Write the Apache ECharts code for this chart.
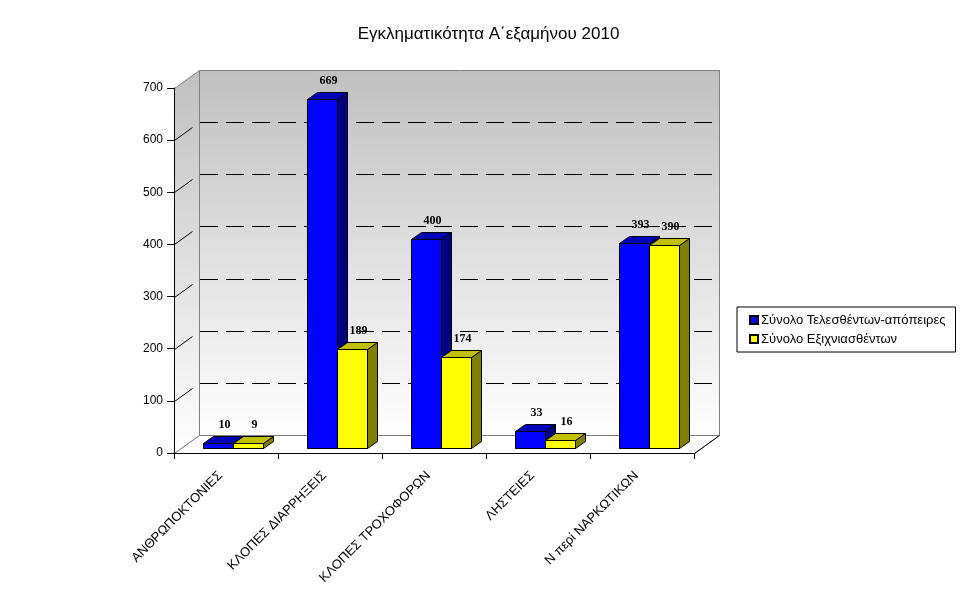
<!DOCTYPE html>
<html>
<head>
<meta charset="utf-8">
<title>Εγκληματικότητα</title>
<script src="https://cdn.jsdelivr.net/npm/echarts@6/dist/echarts.min.js"></script>
<style>
    html, body { margin: 0; padding: 0; background: #fff; }
    #chart { width: 977px; height: 600px; }
</style>
</head>
<body>
<div id="chart"></div>
<script>
// δεδομένα
var categories = ['ΑΝΘΡΩΠΟΚΤΟΝΙΕΣ', 'ΚΛΟΠΕΣ ΔΙΑΡΡΗΞΕΙΣ', 'ΚΛΟΠΕΣ ΤΡΟΧΟΦΟΡΩΝ', 'ΛΗΣΤΕΙΕΣ', 'Ν περί ΝΑΡΚΩΤΙΚΩΝ']
var committed = [10, 669, 400, 33, 393]   // Σύνολο Τελεσθέντων-απόπειρες
var solved = [9, 189, 174, 16, 390]       // Σύνολο Εξιχνιασθέντων
var gridValues = [100, 200, 300, 400, 500, 600]
var seriesNames = ['Σύνολο Τελεσθέντων-απόπειρες', 'Σύνολο Εξιχνιασθέντων']

// 3D βάθος (pixels)
var DEPTH_X = 25
var DEPTH_Y = -18
var BAR_POS = 0.28     // πού ξεκινάει η μπάρα μέσα στο βάθος
var BAR_DEPTH = 0.4    // πόσο βάθος έχει η μπάρα
var BAR_RATIO = 0.288  // πλάτος μπάρας / πλάτος κατηγορίας

var chart = echarts.init(document.getElementById('chart'))

function px(v) { return Math.round(v) + 0.5 }

// τοίχοι και πάτωμα
function renderWalls(params, api) {
    var cs = params.coordSys
    var x0 = cs.x, y0 = cs.y, x1 = cs.x + cs.width, yb = cs.y + cs.height
    var grad = new echarts.graphic.LinearGradient(0, 0, 0, 1, [
        { offset: 0, color: '#c0c0c0' },
        { offset: 1, color: '#ffffff' }
    ])
    return {
        type: 'group',
        children: [
            {
                type: 'polygon',
                shape: { points: [[px(x0 + DEPTH_X), px(y0 + DEPTH_Y)], [px(x1 + DEPTH_X), px(y0 + DEPTH_Y)], [px(x1 + DEPTH_X), px(yb + DEPTH_Y)], [px(x0 + DEPTH_X), px(yb + DEPTH_Y)]] },
                style: { fill: grad, stroke: '#808080', lineWidth: 1 }
            },
            {
                type: 'polygon',
                shape: { points: [[px(x0), px(y0)], [px(x0 + DEPTH_X), px(y0 + DEPTH_Y)], [px(x0 + DEPTH_X), px(yb + DEPTH_Y)], [px(x0), px(yb)]] },
                style: { fill: grad, stroke: '#808080', lineWidth: 1 }
            },
            {
                type: 'polygon',
                shape: { points: [[px(x0), px(yb)], [px(x0 + DEPTH_X), px(yb + DEPTH_Y)], [px(x1 + DEPTH_X), px(yb + DEPTH_Y)], [px(x1), px(yb)]] },
                style: { fill: '#ffffff', stroke: '#808080', lineWidth: 1 }
            },
            {
                type: 'line',
                shape: { x1: px(x1), y1: px(yb), x2: px(x1 + DEPTH_X), y2: px(yb + DEPTH_Y) },
                style: { stroke: '#000', lineWidth: 1 }
            }
        ]
    }
}

// διακεκομμένες γραμμές πλέγματος
function renderGridLine(params, api) {
    var cs = params.coordSys
    var y = api.coord([0, api.value(1)])[1]
    return {
        type: 'group',
        children: [
            {
                type: 'line',
                shape: { x1: cs.x + DEPTH_X + 1, y1: px(y + DEPTH_Y), x2: cs.x + cs.width + DEPTH_X, y2: px(y + DEPTH_Y) },
                style: { stroke: '#000', lineWidth: 1, lineDash: [18, 8] }
            },
            {
                type: 'line',
                shape: { x1: px(cs.x), y1: px(y), x2: px(cs.x + DEPTH_X * 0.72), y2: px(y + DEPTH_Y * 0.72) },
                style: { stroke: '#000', lineWidth: 1 }
            }
        ]
    }
}

// 3D μπάρες
function makeBarRenderer(idx, front, top, side) {
    return function (params, api) {
        var i = api.value(0)
        var v = api.value(1)
        var base = api.coord([i, 0])
        var peak = api.coord([i, v])
        var bw = api.size([1, 0])[0] * BAR_RATIO
        var xl = px(base[0] + (idx === 0 ? -bw : 0) + DEPTH_X * BAR_POS)
        var xr = px(base[0] + (idx === 0 ? 0 : bw) + DEPTH_X * BAR_POS)
        var yb = px(base[1] + DEPTH_Y * BAR_POS)
        var yt = px(peak[1] + DEPTH_Y * BAR_POS)
        var dx = Math.round(DEPTH_X * BAR_DEPTH), dy = Math.round(DEPTH_Y * BAR_DEPTH)
        var line = { stroke: '#000', lineWidth: 1 }
        return {
            type: 'group',
            children: [
                {
                    type: 'polygon',
                    shape: { points: [[xr, yt], [xr + dx, yt + dy], [xr + dx, yb + dy], [xr, yb]] },
                    style: Object.assign({ fill: side }, line)
                },
                {
                    type: 'polygon',
                    shape: { points: [[xl, yt], [xl + dx, yt + dy], [xr + dx, yt + dy], [xr, yt]] },
                    style: Object.assign({ fill: top }, line)
                },
                {
                    type: 'rect',
                    shape: { x: xl, y: yt, width: xr - xl, height: yb - yt },
                    style: Object.assign({ fill: front }, line)
                },
                {
                    type: 'text',
                    style: {
                        text: String(v),
                        x: (xl + xr) / 2 + 6,
                        y: yt - 19,
                        align: 'center',
                        verticalAlign: 'middle',
                        font: 'bold 12px "Liberation Serif"',
                        fill: '#000'
                    }
                }
            ]
        }
    }
}

var option = {
    animation: false,
    backgroundColor: '#fff',
    title: {
        text: 'Εγκληματικότητα Α΄εξαμήνου 2010',
        left: 'center',
        top: 21,
        textStyle: { fontFamily: 'Liberation Sans', fontSize: 17, fontWeight: 'normal', color: '#000' }
    },
    legend: {
        orient: 'vertical',
        left: 737,
        top: 307,
        data: seriesNames,
        icon: 'rect',
        itemWidth: 8,
        itemHeight: 8,
        itemGap: 5,
        padding: [6, 10, 6, 12],
        borderColor: '#000',
        borderWidth: 1,
        backgroundColor: '#fff',
        textStyle: { fontFamily: 'Liberation Sans', fontSize: 13, lineHeight: 14, color: '#000', padding: [0, 0, 0, -2] }
    },
    grid: { left: 174, top: 88, width: 520, height: 365 },
    xAxis: {
        type: 'category',
        data: categories,
        axisLine: { lineStyle: { color: '#000', width: 1 } },
        axisTick: { show: true, length: 6, lineStyle: { color: '#000' } },
        axisLabel: { rotate: 45, interval: 0, margin: 15, padding: [0, 8, 0, 0], fontFamily: 'Liberation Sans', fontSize: 13, color: '#000' }
    },
    yAxis: {
        type: 'value',
        min: 0,
        max: 700,
        interval: 100,
        axisLine: { show: true, lineStyle: { color: '#000', width: 1 } },
        axisTick: { show: true, length: 7, lineStyle: { color: '#000' } },
        axisLabel: { margin: 11, fontFamily: 'Liberation Sans', fontSize: 12, color: '#000' },
        splitLine: { show: false }
    },
    series: [
        {
            type: 'custom',
            name: 'walls',
            z: -2,
            clip: false,
            silent: true,
            renderItem: renderWalls,
            data: [[0, 0]]
        },
        {
            type: 'custom',
            name: 'grid',
            z: -1,
            clip: false,
            silent: true,
            renderItem: renderGridLine,
            data: gridValues.map(function (v) { return [0, v] })
        },
        {
            type: 'custom',
            name: seriesNames[0],
            clip: false,
            itemStyle: { color: '#0000ff', borderColor: '#000', borderWidth: 1 },
            renderItem: makeBarRenderer(0, '#0000ff', '#0000b8', '#000080'),
            data: committed.map(function (v, i) { return [i, v] })
        },
        {
            type: 'custom',
            name: seriesNames[1],
            clip: false,
            itemStyle: { color: '#ffff00', borderColor: '#000', borderWidth: 1 },
            renderItem: makeBarRenderer(1, '#ffff00', '#c0c000', '#808000'),
            data: solved.map(function (v, i) { return [i, v] })
        }
    ]
}

chart.setOption(option)
</script>
</body>
</html>
